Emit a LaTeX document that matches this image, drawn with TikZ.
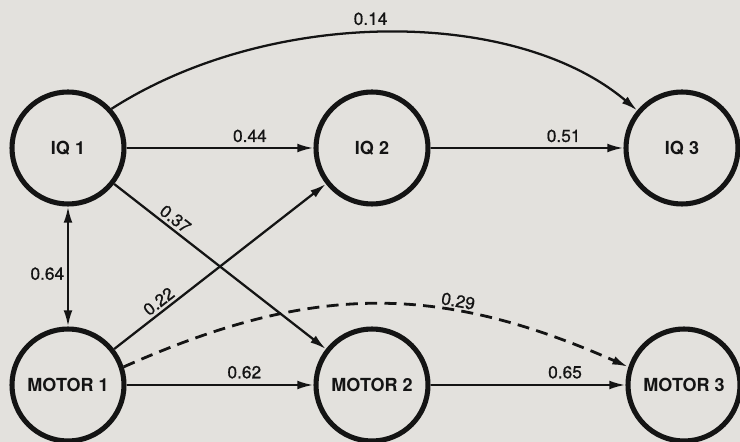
\documentclass[tikz,border=0pt]{standalone}
\usepackage{fontspec}
\setmainfont{TeX Gyre Heros}
\newfontfamily\lblfont[FakeBold=0.8]{TeX Gyre Heros}
\usetikzlibrary{arrows.meta}
\definecolor{bgpaper}{RGB}{227,225,221}
\definecolor{ink}{RGB}{20,20,20}
\begin{document}
\begin{tikzpicture}[x=0.75pt,y=-0.75pt,
  var/.style={circle,draw=ink,line width=3.8pt,minimum size=84pt,inner sep=0pt,
    text=ink,font=\fontsize{13.5}{16}\selectfont\bfseries},
  link/.style={draw=ink,line width=1.7pt,-{Latex[length=12pt,width=6.5pt]}},
  dlink/.style={link,line width=2.1pt,dash pattern=on 9pt off 5.5pt},
  wt/.style={font=\lblfont\fontsize{13}{15}\selectfont,text=ink,inner sep=1pt}]
\fill[bgpaper] (0,0) rectangle (740,442);
\useasboundingbox (0,0) rectangle (740,442);
\node[var] (iq1) at (68,148) {IQ 1};
\node[var] (iq2) at (372,148) {IQ 2};
\node[var] (iq3) at (682,148) {IQ 3};
\node[var] (m1) at (68,385) {MOTOR 1};
\node[var] (m2) at (372,385) {MOTOR 2};
\node[var] (m3) at (684,385) {MOTOR 3};
\draw[link] (iq1) -- node[wt,pos=0.66,above=2.5pt] {0.44} (iq2);
\draw[link] (iq2) -- node[wt,pos=0.69,above=2.5pt] {0.51} (iq3);
\draw[link] (m1) -- node[wt,pos=0.63,above=3pt] {0.62} (m2);
\draw[link] (m2) -- node[wt,pos=0.69,above=3pt] {0.65} (m3);
\draw[link,{Latex[length=12pt,width=6.5pt]}-{Latex[length=12pt,width=6.5pt]}] (iq1) -- node[wt,pos=0.56,left=1pt] {0.64} (m1);
\draw[link] (iq1) -- node[wt,pos=0.26,sloped,above=1pt] {0.37} (m2);
\draw[link] (m1) -- node[wt,pos=0.24,sloped,above=1pt] {0.22} (iq2);
\draw[link] (iq1.42) .. controls (270,7) and (515,7) .. node[wt,pos=0.47,above=4pt] {0.14} (iq3.140);
\draw[dlink] (m1.18) .. controls (312,283) and (438,283) .. node[wt,pos=0.67,sloped,above=1pt] {0.29} (m3.162);
\end{tikzpicture}
\end{document}
